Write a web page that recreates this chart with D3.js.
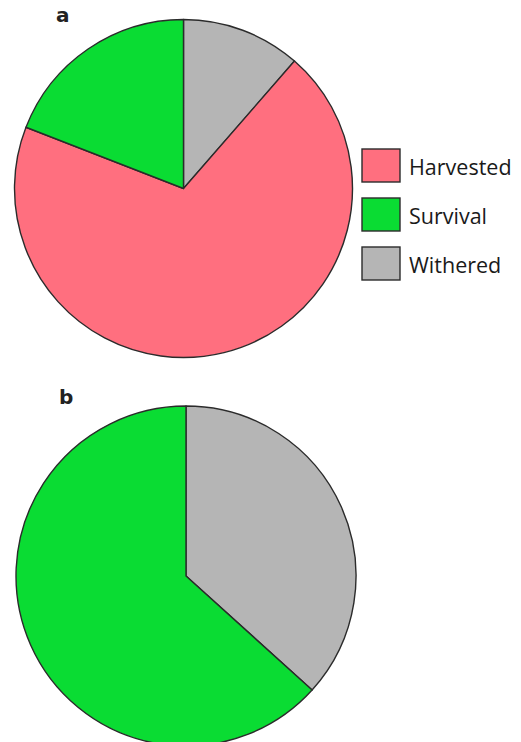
<!DOCTYPE html>
<html>
<head>
<meta charset="utf-8">
<script src="https://cdn.jsdelivr.net/npm/d3@7"></script>
<style>
  body { margin: 0; background: #fff; }
  svg { display: block; }
</style>
</head>
<body>
<div id="chart"></div>
<script>
// categories in legend order
var categories = ["Harvested", "Survival", "Withered"]
var colors = ["#ff6f7f", "#0adc33", "#b5b5b5"]
// slice order clockwise from 12 o'clock
var sliceOrder = ["Withered", "Harvested", "Survival"]
// percent shares
var valuesA = [11.4, 69.5, 19.1]
var valuesB = [36.7, 0, 63.3]

const width = 521, height = 742;

var svg = d3.select("#chart")
  .append("svg")
  .attr("width", width)
  .attr("height", height);

var color = d3.scaleOrdinal().domain(categories).range(colors);

var pie = d3.pie().sort(null).value(d => d.value);

function drawPie(values, cx, cy, r, label, lx, ly) {
  var data = sliceOrder.map((c, i) => ({name: c, value: values[i]}));
  var arc = d3.arc().innerRadius(0).outerRadius(r);
  var g = svg.append("g").attr("transform", "translate(" + cx + "," + cy + ")");
  g.selectAll("path")
    .data(pie(data).filter(d => d.data.value > 0))
    .enter().append("path")
      .attr("d", arc)
      .style("fill", d => color(d.data.name))
      .style("stroke", "#2b2b2b")
      .style("stroke-width", 1.4)
      .style("stroke-linejoin", "round");
  svg.append("text")
    .attr("x", lx)
    .attr("y", ly)
    .style("font-family", "'DejaVu Sans', sans-serif")
    .style("font-weight", "bold")
    .style("font-size", "20px")
    .style("fill", "#222")
    .text(label);
}

drawPie(valuesA, 183.5, 188.5, 169, "a", 56, 22);
drawPie(valuesB, 186, 576, 170, "b", 59, 404);

// legend
var legend = svg.append("g").attr("class", "legend");
var lg = legend.selectAll("g")
  .data(categories)
  .enter().append("g")
  .attr("transform", (d, i) => "translate(362," + (149 + i * 49) + ")");

lg.append("rect")
  .attr("width", 38)
  .attr("height", 33)
  .style("fill", d => color(d))
  .style("stroke", "#2b2b2b")
  .style("stroke-width", 1.4);

lg.append("text")
  .attr("x", 47)
  .attr("y", 26)
  .style("font-family", "'Open Sans', sans-serif")
  .style("font-size", "21.5px")
  .style("fill", "#1a1a1a")
  .text(d => d);
</script>
</body>
</html>
